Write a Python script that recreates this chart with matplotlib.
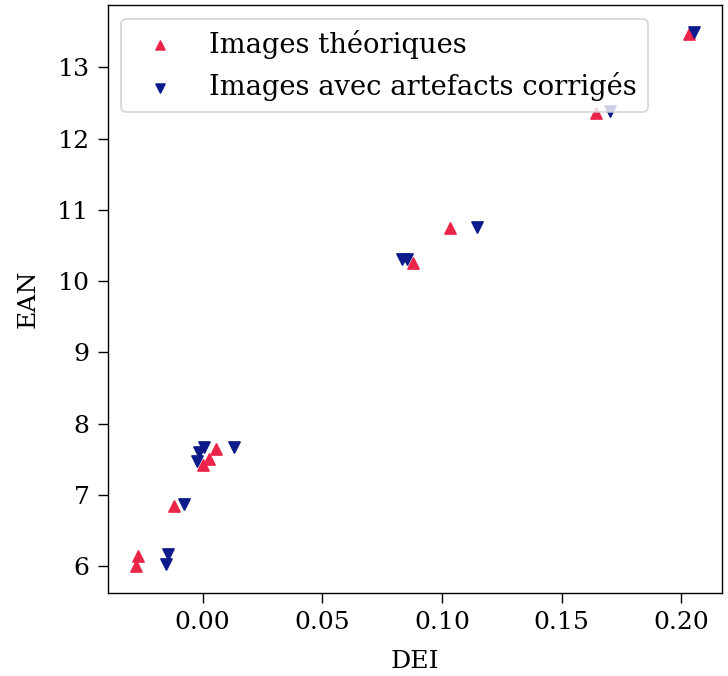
import matplotlib
matplotlib.use("Agg")
import matplotlib.pyplot as plt

# valeurs
dei_theo = [-0.028, -0.027, -0.012, 0.0, 0.0025, 0.0054, 0.088, 0.1035, 0.1645, 0.2032]
ean_theo = [6.0, 6.14, 6.85, 7.42, 7.5, 7.65, 10.26, 10.74, 12.36, 13.47]

dei_corr = [-0.0154, -0.0146, -0.008, -0.0025, -0.0017, 0.0004, 0.013, 0.0833, 0.0854, 0.1146, 0.170, 0.2054]
ean_corr = [6.03, 6.17, 6.87, 7.47, 7.6, 7.67, 7.67, 10.31, 10.31, 10.76, 12.39, 13.5]

plt.rcParams['font.family'] = 'DejaVu Serif'
plt.rcParams['font.size'] = 14.5

fig, ax = plt.subplots(figsize=(5.824, 5.408), dpi=125)
fig.subplots_adjust(left=0.148, right=0.992, bottom=0.123, top=0.9926)

ax.scatter(dei_theo, ean_theo, marker='^', color='#eb2449', s=40, label='Images théoriques')
ax.scatter(dei_corr, ean_corr, marker='v', color='#0c1a8a', s=40, label='Images avec artefacts corrigés')

ax.tick_params(length=5.5, pad=5)
ax.set_xlabel('DEI', labelpad=9)
ax.set_ylabel('EAN', labelpad=10)
ax.legend(loc='upper left', fontsize=15.8, markerscale=0.8)

fig.savefig('out.png', dpi=125)
